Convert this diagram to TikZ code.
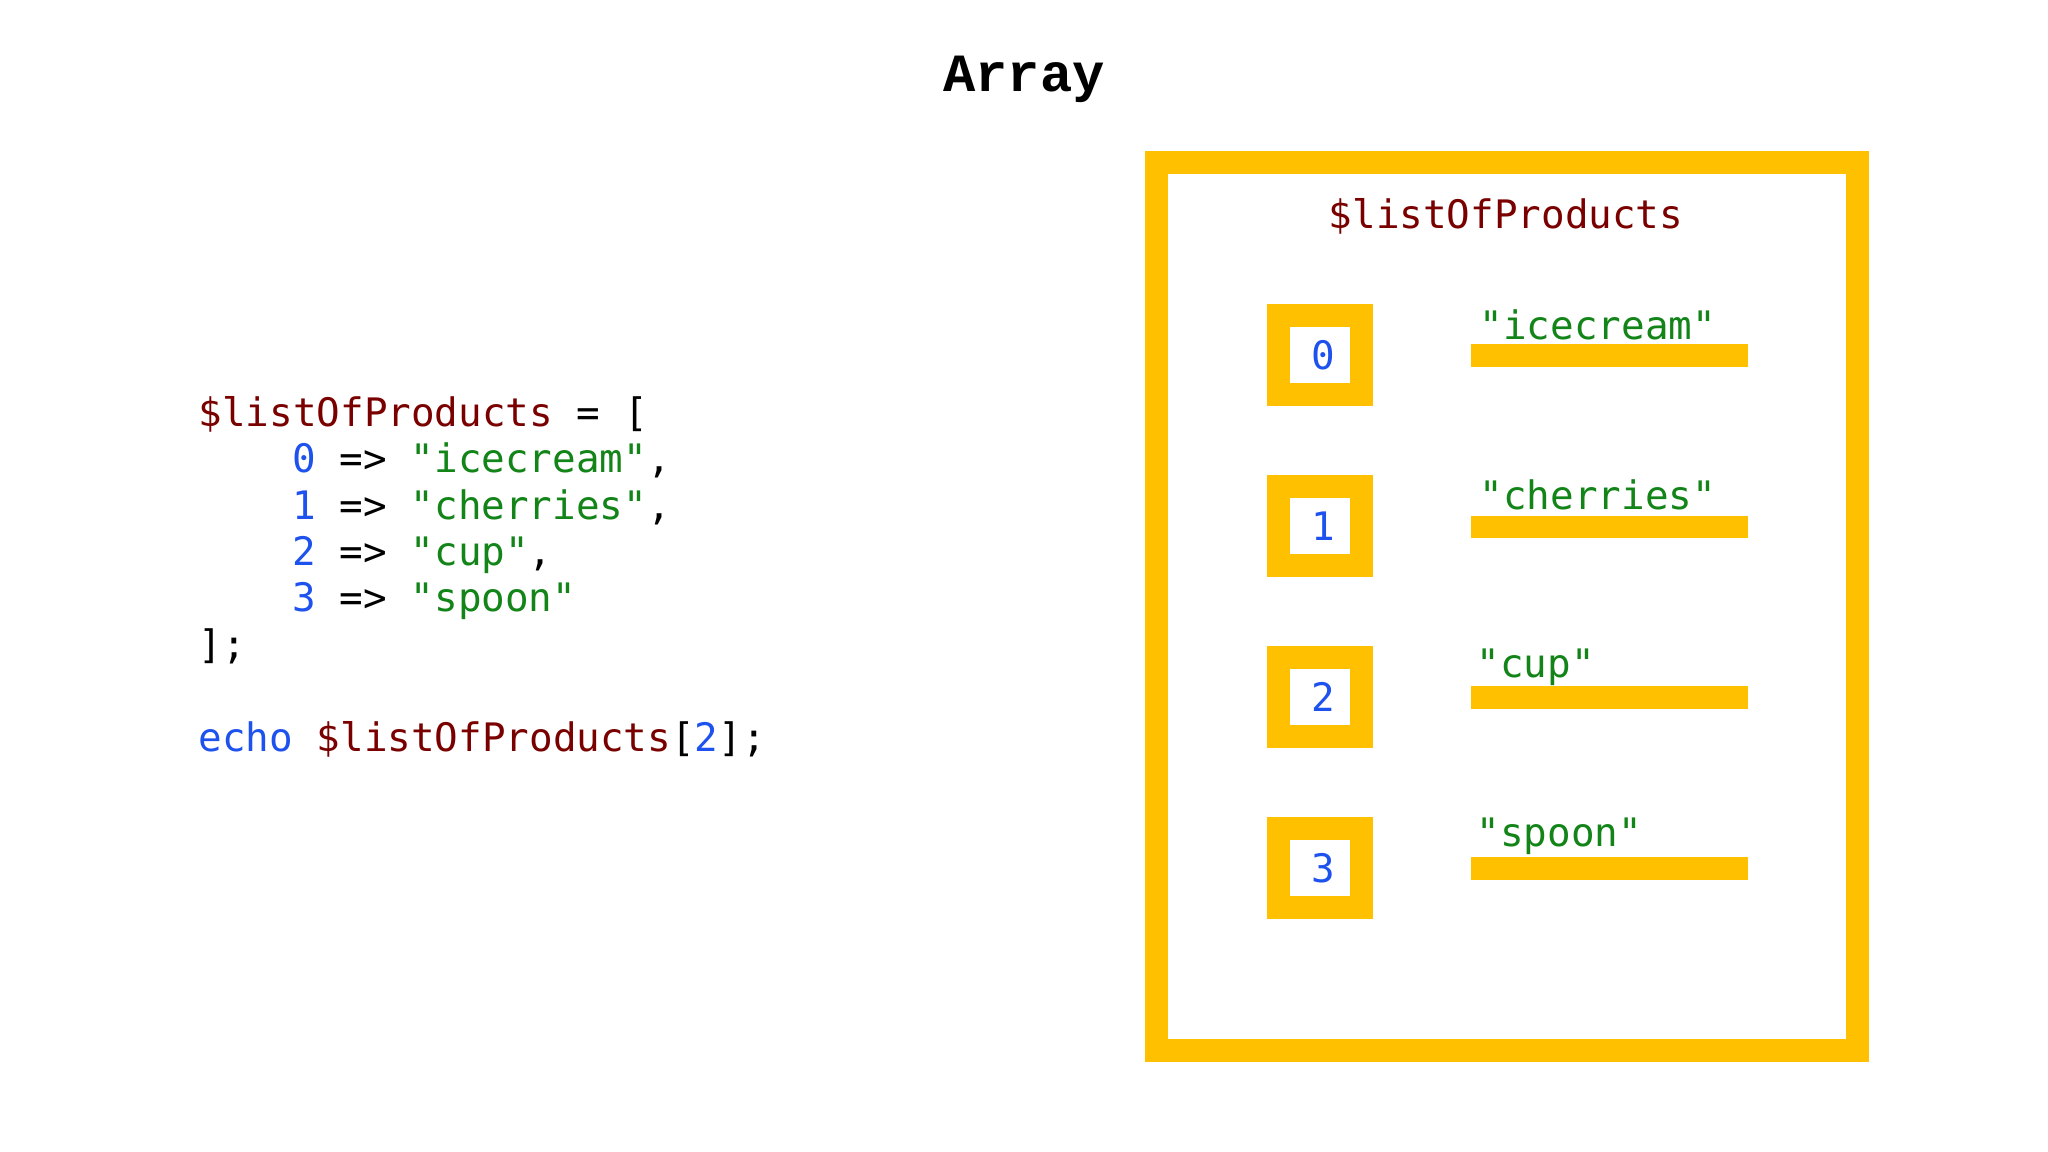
\documentclass[tikz,border=0pt]{standalone}
\usepackage{fontspec}
\newfontfamily\codefont{DejaVu Sans Mono}
\newfontfamily\titlefont{Liberation Mono}
\definecolor{ylw}{RGB}{255,192,0}
\definecolor{mrn}{RGB}{122,0,0}
\definecolor{grn}{RGB}{18,132,24}
\definecolor{blu}{RGB}{30,82,238}
\newcommand{\mr}[1]{\textcolor{mrn}{#1}}
\newcommand{\gr}[1]{\textcolor{grn}{#1}}
\newcommand{\bl}[1]{\textcolor{blu}{#1}}
\tikzset{
  code/.style={inner sep=0pt, anchor=base west, font=\codefont\fontsize{11.16pt}{13pt}\selectfont, text=black},
  idxbox/.style={draw=ylw, line width=0.23cm, minimum width=0.835cm, minimum height=0.79cm, inner sep=0pt,
    font=\codefont\fontsize{11.16pt}{13pt}\selectfont, text=blu},
  bar/.style={fill=ylw, minimum width=2.773cm, minimum height=0.227cm, inner sep=0pt},
  val/.style={code, text=grn},
}
\begin{document}
\begin{tikzpicture}[x=0.01cm,y=-0.01cm]
\useasboundingbox[fill=white] (0,0) rectangle (2048,1152);
% title
\node[inner sep=0pt, anchor=base, font=\titlefont\bfseries\fontsize{15.3pt}{18pt}\selectfont] (title) at (1024,91.5) {Array};
% code
\node[code] (l1) at (198,427) {\mr{\$listOfProducts} = [};
\node[code] (l2) at (292,473) {\bl{0} => \gr{"icecream"},};
\node[code] (l3) at (292,519.5) {\bl{1} => \gr{"cherries"},};
\node[code] (l4) at (292,566) {\bl{2} => \gr{"cup"},};
\node[code] (l5) at (292,612) {\bl{3} => \gr{"spoon"}};
\node[code] (l6) at (198,658) {];};
\node[code] (l7) at (198,751) {\bl{echo} \mr{\$listOfProducts}[\bl{2}];};
% array frame
\node[draw=ylw, line width=0.23cm, minimum width=7cm, minimum height=8.875cm, inner sep=0pt] (frame) at (1507,606.25) {};
\node[code, anchor=base, text=mrn] (name) at (1506,229) {\$listOfProducts};
% index boxes
\node[idxbox] (i0) at (1319.8,355.4) {\hspace*{0.07cm}0};
\node[idxbox] (i1) at (1319.8,526.4) {\hspace*{0.07cm}1};
\node[idxbox] (i2) at (1319.8,697.4) {\hspace*{0.07cm}2};
\node[idxbox] (i3) at (1319.8,868.4) {\hspace*{0.07cm}3};
% bars
\node[bar] (b0) at (1609.4,355.7) {};
\node[bar] (b1) at (1609.4,527) {};
\node[bar] (b2) at (1609.4,697.3) {};
\node[bar] (b3) at (1609.4,868.3) {};
% values
\node[val] (v0) at (1479,340) {"icecream"};
\node[val] (v1) at (1479,510) {"cherries"};
\node[val] (v2) at (1476,677) {"cup"};
\node[val] (v3) at (1476,846) {"spoon"};
\end{tikzpicture}
\end{document}
